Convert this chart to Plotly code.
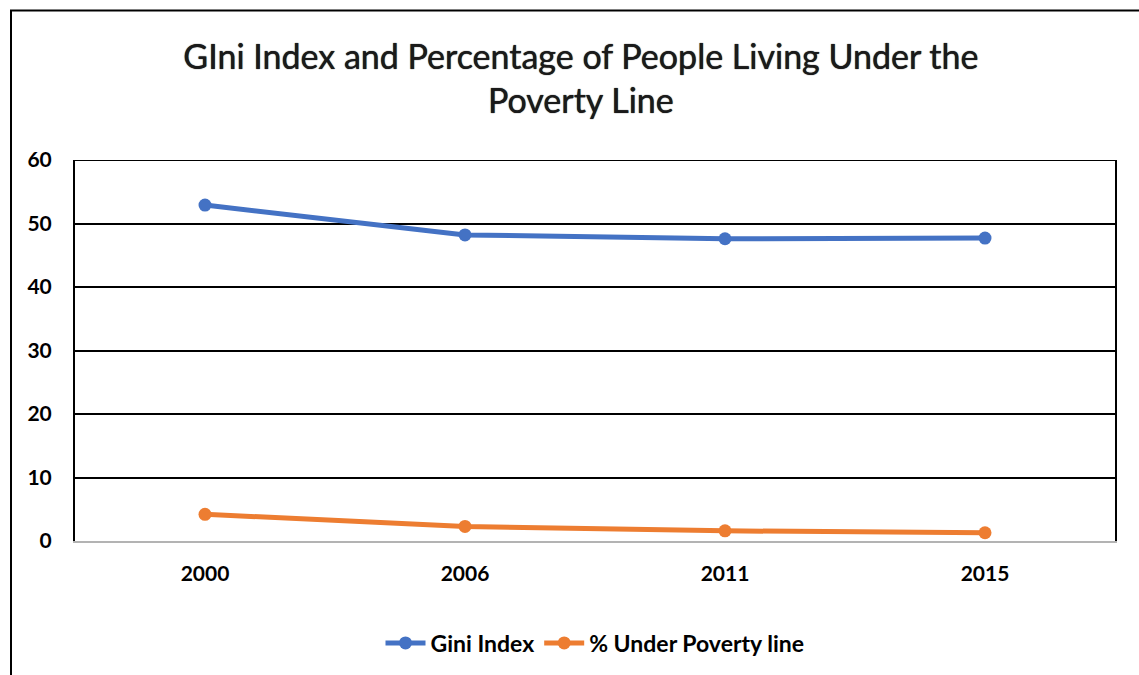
import plotly.graph_objects as go

# Survey years and indicator values
years = ["2000", "2006", "2011", "2015"]
gini_index = [52.9, 48.2, 47.6, 47.7]
under_poverty = [4.2, 2.3, 1.6, 1.3]
y_ticks = [0, 10, 20, 30, 40, 50, 60]

BLUE = "#4472C4"
ORANGE = "#ED7D31"
FONT = "Lato, 'Open Sans', sans-serif"

fig = go.Figure()
fig.add_trace(go.Scatter(
    x=years, y=gini_index, name="Gini Index", mode="lines+markers",
    line=dict(color=BLUE, width=5), marker=dict(size=13, color=BLUE),
))
fig.add_trace(go.Scatter(
    x=years, y=under_poverty, name="% Under Poverty line", mode="lines+markers",
    line=dict(color=ORANGE, width=5), marker=dict(size=13, color=ORANGE),
))

L, R, T, B = 75, 24, 160, 133
W, H = 1139, 675
pw, ph = W - L - R, H - T - B

fig.update_layout(
    width=W, height=H,
    margin=dict(l=L, r=R, t=T, b=B),
    paper_bgcolor="white", plot_bgcolor="white",
    title=dict(
        text="GIni Index and Percentage of People Living Under the<br>Poverty Line",
        x=0.51, xanchor="center", y=1 - 69 / H, yanchor="middle",
        font=dict(family=FONT, size=34, color="#1a1a1a",
                  shadow="0px 0px 1px #000"),
    ),
    font=dict(family=FONT, color="black"),
    showlegend=True,
    legend=dict(
        orientation="h", x=0.5, xanchor="center",
        y=-(643 - (H - B)) / ph, yanchor="middle",
        font=dict(size=23, weight="bold", color="black"),
        itemwidth=40, traceorder="normal",
    ),
    xaxis=dict(
        type="category", range=[-0.5, 3.5],
        showgrid=False, zeroline=False,
        showline=True, linecolor="#b3b3b3", linewidth=2,
        ticks="", ticklabelstandoff=13,
        tickfont=dict(size=21, weight="bold", color="black"),
    ),
    yaxis=dict(
        range=[0, 60], tickvals=y_ticks,
        showgrid=True, gridcolor="black", gridwidth=2,
        zeroline=False,
        showline=True, linecolor="black", linewidth=2, mirror=True,
        ticks="", ticklabelstandoff=17,
        tickfont=dict(size=21, weight="bold", color="black"),
    ),
    shapes=[
        # outer frame around the whole chart
        dict(type="rect", xref="paper", yref="paper",
             x0=(11 - L) / pw, x1=(W + 20 - L) / pw,
             y0=-(H + 20 - (H - B)) / ph, y1=((H - B) - 10) / ph,
             line=dict(color="black", width=2), fillcolor="rgba(0,0,0,0)",
             layer="below"),
        # top edge of the plot area (the 60 gridline)
        dict(type="line", xref="paper", yref="y", x0=0, x1=1, y0=60, y1=60,
             line=dict(color="black", width=2)),
    ],
)

fig.write_html("out.html")
